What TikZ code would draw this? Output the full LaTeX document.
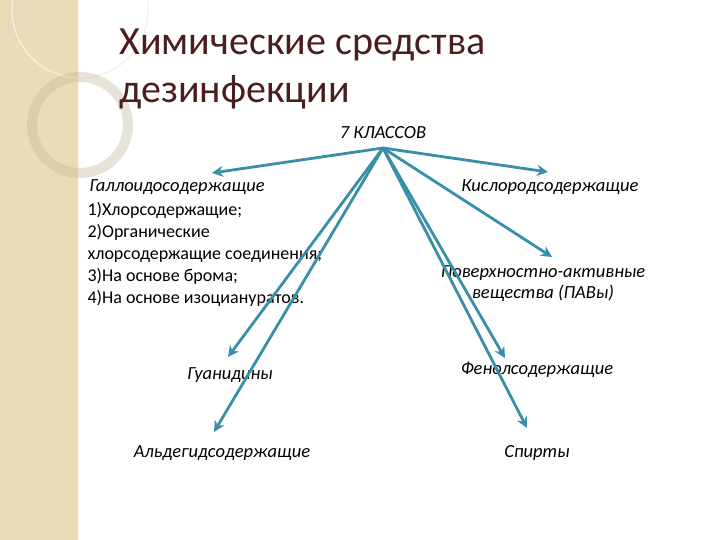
\documentclass[tikz,border=0pt]{standalone}
\usepackage{fontspec}
\setmainfont{Carlito}
\usetikzlibrary{arrows.meta}
\definecolor{arr}{HTML}{3A8FA8}
\definecolor{beige}{HTML}{EADCB8}
\definecolor{ttl}{HTML}{4A1E1E}
\begin{document}
\begin{tikzpicture}[x=1pt,y=-1pt,
  lbl/.style={font=\fontsize{18.5}{21}\selectfont\itshape},
  con/.style={draw=arr,line width=2.8pt,-{Stealth[length=11pt,width=11pt]}}]
\useasboundingbox (0,0) rectangle (720,540);
\fill[white] (0,0) rectangle (720,540);
\fill[beige] (0,0) rectangle (78,540);
\draw[white!70!beige,line width=1pt] (78,0) -- (78,540);
\draw[white!60!beige,line width=1.2pt] (80,10) circle (68);
\draw[beige!85!black,line width=10pt,opacity=0.4] (80,125) circle (48);
\node[anchor=west,text=ttl,font=\fontsize{40}{46}\selectfont] (t1) at (116,45) {Химические средства};
\node[anchor=west,text=ttl,font=\fontsize{40}{46}\selectfont] (t2) at (116,92) {дезинфекции};
\node[lbl] (k) at (383,133) {7 КЛАССОВ};
\coordinate (h) at (383,148);
\node[lbl,anchor=west] (g) at (86,187) {Галлоидосодержащие};
\node[anchor=north west,align=left,font=\fontsize{18}{22}\selectfont] (gl) at (84,199) {1)Хлорсодержащие;\\2)Органические\\хлорсодержащие соединения;\\3)На основе брома;\\4)На основе изоциануратов.};
\node[lbl] (o) at (550,187) {Кислородсодержащие};
\node[lbl,align=center] (p) at (543,284) {Поверхностно-активные\\вещества (ПАВы)};
\node[lbl] (gu) at (230,375) {Гуанидины};
\node[lbl] (f) at (537,370) {Фенолсодержащие};
\node[lbl] (a) at (222,453) {Альдегидсодержащие};
\node[lbl] (s) at (537,453) {Спирты};
\coordinate (eg) at (212,173);
\coordinate (eo) at (548,172);
\coordinate (ep) at (552,257);
\coordinate (egu) at (228,357);
\coordinate (ea) at (214,432);
\coordinate (ef) at (505,358);
\coordinate (es) at (527,428);
\foreach \e in {eg,eo,ep,egu,ea,ef,es} \draw[con] (h) -- (\e);
\end{tikzpicture}
\end{document}
